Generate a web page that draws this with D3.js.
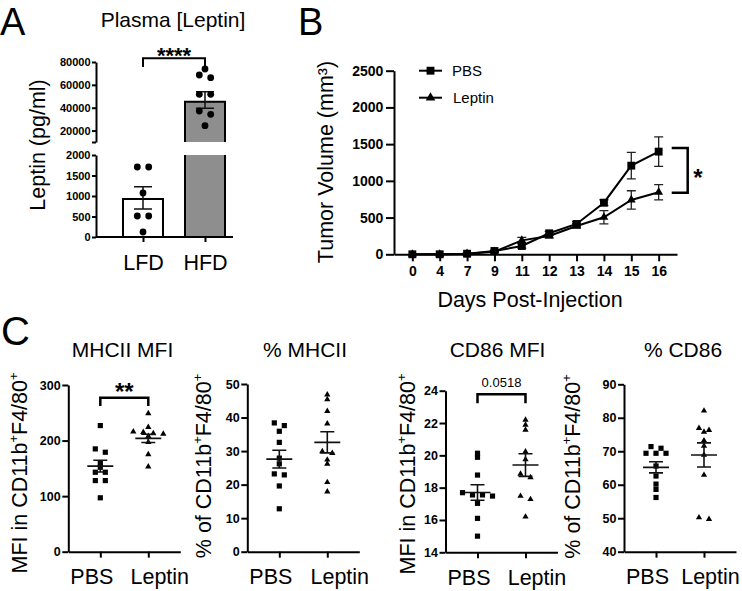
<!DOCTYPE html>
<html><head><meta charset="utf-8">
<script src="https://cdn.jsdelivr.net/npm/d3@7"></script>
<style>
body{margin:0;background:#fff}
svg{display:block;font-family:"Liberation Sans",Arial,Helvetica,sans-serif}
</style></head><body>
<svg id="c" width="742" height="591"></svg>
<script>
// ---------- DATA ----------
// Panel A
const aGroups = ["LFD", "HFD"];
const aLFD = [1707, 1707, 1073, 512, 512, 122];
const aHFD = [73875, 68625, 66263, 51738, 51738, 37125, 34238, 24263];
const aMean = [927, 45263];
const aSemLo = [683, 39488];
const aSemHi = [1227, 54013];
const aLowTicks = [0, 500, 1000, 1500, 2000];
const aHighTicks = [10000, 20000, 40000, 60000, 80000];

// Panel B
const bDays = ["0", "4", "7", "9", "11", "12", "13", "14", "15", "16"];
const bPbsMean = [0, 0, 8, 45, 113, 286, 413, 703, 1207, 1398];
const bPbsSem = [0, 0, 3, 10, 30, 25, 30, 40, 180, 200];
const bLepMean = [0, 0, 8, 35, 190, 250, 386, 504, 740, 845];
const bLepSem = [0, 0, 3, 10, 40, 25, 30, 90, 125, 105];
const bTicks = [0, 500, 1000, 1500, 2000, 2500];

// Panel C
const cGroups = ["PBS", "Leptin"];
const c1Pbs = [227, 185, 179, 160, 152, 143, 143, 128, 128, 97];
const c1Lep = [249, 224, 216, 215, 213, 212, 208, 197, 175, 153];
const c1Mean = [154, 204], c1Sem = [10.5, 7.5];
const c2Pbs = [38.4, 37.6, 35.9, 32.6, 27.9, 26.2, 23.2, 22.9, 19.6, 12.8];
const c2Lep = [46.8, 45.4, 41.9, 38.2, 29.9, 29.4, 27.4, 26.2, 20.7, 17.9];
const c2Mean = [27.6, 32.6], c2Sem = [2.65, 3.15];
const c3Pbs = [20.13, 19.88, 18.78, 17.69, 17.55, 17.55, 17.48, 17.03, 16.1, 15.0];
const c3Lep = [22.19, 21.88, 21.57, 20.23, 19.75, 18.85, 18.64, 17.48, 17.28, 16.2];
const c3Mean = [17.7, 19.4], c3Sem = [0.48, 0.7];
const c4Pbs = [71.4, 70.9, 69.4, 69.4, 69.4, 65.6, 62.6, 60.2, 58.6, 56.2];
const c4Lep = [82.1, 76.9, 76.3, 75.8, 73.2, 71.6, 68.9, 62.9, 50.2, 49.7];
const c4Mean = [65.2, 68.9], c4Sem = [1.65, 3.6];

// ---------- HELPERS ----------
const FONT = '"Liberation Sans", Arial, Helvetica, sans-serif';
const svg = d3.select("#c");
const fmt = d3.format("d");

function styleAxis(g, size, bold) {
  g.attr("font-family", FONT).attr("font-size", size).attr("font-weight", bold ? "bold" : "normal");
  g.select(".domain").attr("stroke", "#000").attr("stroke-width", 2);
  g.selectAll(".tick line").attr("stroke", "#000").attr("stroke-width", 2);
  g.selectAll(".tick text").attr("fill", "#000");
}
function text(x, y, s, size, opt = {}) {
  return svg.append("text").attr("x", x).attr("y", y).text(s)
    .attr("font-size", size).attr("font-weight", opt.bold ? "bold" : "normal")
    .attr("text-anchor", opt.anchor || "start").attr("fill", "#000");
}
function rotTitle(x, y, parts, size) {
  const t = svg.append("text").attr("transform", `translate(${x},${y}) rotate(-90)`)
    .attr("text-anchor", "middle").attr("font-size", size).attr("fill", "#000");
  let up = false;
  parts.forEach(p => {
    const sup = p.startsWith("^");
    const s = sup ? p.slice(1) : p;
    const ts = t.append("tspan").text(s);
    if (sup) { ts.attr("font-size", size * 0.6).attr("dy", -size * 0.42); up = true; }
    else if (up) { ts.attr("dy", size * 0.42); up = false; }
  });
  return t;
}
function swarm(vals, yf, d, thr) {
  const pts = vals.map(v => ({ v, y: yf(v) })).sort((a, b) => a.y - b.y);
  const rows = [];
  pts.forEach(p => {
    const r = rows[rows.length - 1];
    if (r && Math.abs(p.y - r[0].y) <= thr) r.push(p); else rows.push([p]);
  });
  rows.forEach(r => r.forEach((p, i) => p.dx = (i - (r.length - 1) / 2) * d));
  return pts;
}

// ---------- PANEL LETTERS ----------
text(0, 35, "A", 38);
text(298, 35, "B", 38);
text(1, 345, "C", 40);

// ---------- PANEL A ----------
{
  const axX = 96;
  const xA = d3.scalePoint().domain(aGroups).range([112, 236]).padding(0.5);
  const yLo = d3.scaleLinear().domain([0, 2000]).range([237, 155]);
  const yHi = d3.scaleLinear().domain([10000, 80000]).range([142, 62]);
  const yA = v => v > 2000 ? yHi(v) : yLo(v);
  const bw = 40;

  const g = svg.append("g");
  g.append("rect").attr("x", xA("LFD") - bw / 2).attr("y", yLo(aMean[0]))
    .attr("width", bw).attr("height", yLo(0) - yLo(aMean[0]))
    .attr("fill", "#fff").attr("stroke", "#000").attr("stroke-width", 2);
  const hx0 = xA("HFD") - bw / 2, hx1 = xA("HFD") + bw / 2;
  g.append("rect").attr("x", hx0).attr("y", yLo(2000)).attr("width", bw)
    .attr("height", yLo(0) - yLo(2000)).attr("fill", "#8e8e8e");
  g.append("path").attr("d", `M${hx0},${yLo(0)}V${yLo(2000)}M${hx1},${yLo(0)}V${yLo(2000)}`)
    .attr("stroke", "#000").attr("stroke-width", 2).attr("fill", "none");
  g.append("rect").attr("x", hx0).attr("y", yHi(aMean[1])).attr("width", bw)
    .attr("height", yHi(10000) - yHi(aMean[1])).attr("fill", "#8e8e8e");
  g.append("path").attr("d", `M${hx0},${yHi(10000)}V${yHi(aMean[1])}H${hx1}V${yHi(10000)}`)
    .attr("stroke", "#000").attr("stroke-width", 2).attr("fill", "none");

  const ya1 = svg.append("g").attr("transform", `translate(${axX},0)`)
    .call(d3.axisLeft(yLo).tickValues(aLowTicks).tickFormat(fmt).tickSize(4).tickPadding(1.5).tickSizeOuter(0));
  styleAxis(ya1, 11, true);
  const ya2 = svg.append("g").attr("transform", `translate(${axX},0)`)
    .call(d3.axisLeft(yHi).tickValues(aHighTicks).tickFormat(d => d === 10000 ? "" : fmt(d)).tickSize(4).tickPadding(1.5).tickSizeOuter(0));
  styleAxis(ya2, 11, true);
  const xa = svg.append("g").attr("transform", `translate(0,${yLo(0)})`)
    .call(d3.axisBottom(xA).tickSize(5).tickPadding(13));
  styleAxis(xa, 21.5, false);
  xa.select(".domain").remove();
  svg.append("line").attr("x1", axX).attr("x2", 233).attr("y1", yLo(0)).attr("y2", yLo(0))
    .attr("stroke", "#000").attr("stroke-width", 2);

  aGroups.forEach((grp, i) => {
    const cx = xA(grp), lo = yA(aSemLo[i]), hi = yA(aSemHi[i]);
    svg.append("path").attr("d", `M${cx},${lo}V${hi}M${cx - 9},${lo}H${cx + 9}M${cx - 9},${hi}H${cx + 9}`)
      .attr("stroke", "#111").attr("stroke-width", 1.5).attr("fill", "none");
  });
  [aLFD, aHFD].forEach((vals, i) => {
    swarm(vals, yA, 11.4, 4).forEach(p => {
      svg.append("circle").attr("cx", xA(aGroups[i]) + p.dx).attr("cy", p.y).attr("r", 3.4).attr("fill", "#000");
    });
  });

  svg.append("path").attr("d", `M${xA("LFD")},67V58.3H${xA("HFD")}V67`)
    .attr("stroke", "#000").attr("stroke-width", 2).attr("fill", "none");
  text((xA("LFD") + xA("HFD")) / 2, 63, "****", 22, { bold: true, anchor: "middle" });

  text(173, 26.5, "Plasma [Leptin]", 21, { anchor: "middle" });
  rotTitle(45, 145, ["Leptin (pg/ml)"], 21.5);
}

// ---------- PANEL B ----------
{
  const xB = d3.scalePoint().domain(bDays).range([394, 677]).padding(0.67);
  const yB = d3.scaleLinear().domain([0, 2500]).range([254.3, 70.7]);

  const ya = svg.append("g").attr("transform", "translate(394,0)")
    .call(d3.axisLeft(yB).tickValues(bTicks).tickFormat(fmt).tickSize(8).tickPadding(2.7).tickSizeOuter(0));
  styleAxis(ya, 14, true);
  const xa = svg.append("g").attr("transform", `translate(0,${yB(0)})`)
    .call(d3.axisBottom(xB).tickSize(7).tickPadding(5).tickSizeOuter(0));
  styleAxis(xa, 14, true);

  const series = [
    { mean: bPbsMean, sem: bPbsSem, sym: d3.symbolSquare, size: 62 },
    { mean: bLepMean, sem: bLepSem, sym: d3.symbolTriangle, size: 34 }
  ];
  const line = d3.line().x((d, i) => xB(bDays[i])).y(d => yB(d));
  series.forEach(s => {
    bDays.forEach((d, i) => {
      if (s.sem[i] <= 0) return;
      const cx = xB(d), lo = yB(s.mean[i] - s.sem[i]), hi = yB(s.mean[i] + s.sem[i]);
      svg.append("path").attr("d", `M${cx},${lo}V${hi}M${cx - 4.5},${lo}H${cx + 4.5}M${cx - 4.5},${hi}H${cx + 4.5}`)
        .attr("stroke", "#222").attr("stroke-width", 1.3).attr("fill", "none");
    });
  });
  series.forEach(s => {
    svg.append("path").attr("d", line(s.mean)).attr("fill", "none").attr("stroke", "#000").attr("stroke-width", 2);
  });
  series.forEach(s => {
    bDays.forEach((d, i) => {
      svg.append("path").attr("d", d3.symbol(s.sym, s.size)())
        .attr("transform", `translate(${xB(d)},${yB(s.mean[i])})`).attr("fill", "#000");
    });
  });

  const leg = [["PBS", d3.symbolSquare, 62, 70.7, 452], ["Leptin", d3.symbolTriangle, 40, 97.7, 453]];
  leg.forEach(([lab, sym, sz, yy, tx]) => {
    svg.append("line").attr("x1", 419).attr("x2", 442).attr("y1", yy).attr("y2", yy)
      .attr("stroke", "#000").attr("stroke-width", 2);
    svg.append("path").attr("d", d3.symbol(sym, sz)()).attr("transform", `translate(430.5,${yy})`).attr("fill", "#000");
    text(tx, yy + 5.3, lab, 15);
  });

  svg.append("path").attr("d", "M671.7,148H687.7V192.7H671.7")
    .attr("stroke", "#000").attr("stroke-width", 2.5).attr("fill", "none");
  text(698, 186, "*", 24, { bold: true, anchor: "middle" });

  text(530, 306.7, "Days Post-Injection", 21.5, { anchor: "middle" });
  rotTitle(333, 162, ["Tumor Volume (mm³)"], 21.5);
}

// ---------- PANEL C ----------
const cPanels = [
  { title: "MHCII MFI", tx: 122.5, ax: 68.3, domain: [0, 300], ticks: [0, 100, 200, 300], y0: 551.7, y1: 385,
    pbs: c1Pbs, lep: c1Lep, mean: c1Mean, sem: c1Sem, ylab: ["MFI in CD11b", "^+", "F4/80", "^+"], lx: 27, ly: 473,
    sig: "**", sigY: 397.7, sigDrop: 406, sigBold: true, lepDx: 11 },
  { title: "% MHCII", tx: 305, ax: 247.3, domain: [0, 50], ticks: [0, 10, 20, 30, 40, 50], y0: 551.7, y1: 384,
    pbs: c2Pbs, lep: c2Lep, mean: c2Mean, sem: c2Sem, ylab: ["% of CD11b", "^+", "F4/80", "^+"], lx: 211, ly: 466, lepDx: 12 },
  { title: "CD86 MFI", tx: 497.5, ax: 445.5, domain: [14, 24], ticks: [14, 16, 18, 20, 22, 24], y0: 552.3, y1: 390.7,
    pbs: c3Pbs, lep: c3Lep, mean: c3Mean, sem: c3Sem, ylab: ["MFI in CD11b", "^+", "F4/80", "^+"], lx: 415, ly: 474,
    sig: "0.0518", sigY: 394.3, sigDrop: 403.3, sigBold: false, lepDx: 11 },
  { title: "% CD86", tx: 683, ax: 624, domain: [40, 90], ticks: [40, 50, 60, 70, 80, 90], y0: 551.7, y1: 384.3,
    pbs: c4Pbs, lep: c4Lep, mean: c4Mean, sem: c4Sem, ylab: ["% of CD11b", "^+", "F4/80", "^+"], lx: 580, ly: 466.5, lepDx: 6 }
];

cPanels.forEach(cfg => {
  const y = d3.scaleLinear().domain(cfg.domain).range([cfg.y0, cfg.y1]);
  const x = d3.scalePoint().domain(cGroups).range([cfg.ax, cfg.ax + 112]).padding(0.667);

  const ya = svg.append("g").attr("transform", `translate(${cfg.ax},0)`)
    .call(d3.axisLeft(y).tickValues(cfg.ticks).tickFormat(fmt).tickSize(6).tickPadding(1.6).tickSizeOuter(0));
  styleAxis(ya, 12.5, true);
  const xa = svg.append("g").attr("transform", `translate(0,${cfg.y0})`)
    .call(d3.axisBottom(x).tickSize(6).tickPadding(11).tickSizeOuter(0));
  styleAxis(xa, 21.5, false);
  xa.selectAll(".tick text").attr("dx", d => d === "PBS" ? -9 : cfg.lepDx);

  [cfg.pbs, cfg.lep].forEach((vals, gi) => {
    const sym = gi === 0 ? d3.symbol(d3.symbolSquare, 27)() : d3.symbol(d3.symbolTriangle, 17)();
    swarm(vals, y, 10, 3.5).forEach(p => {
      svg.append("path").attr("d", sym).attr("transform", `translate(${x(cGroups[gi]) + p.dx},${p.y})`).attr("fill", "#000");
    });
  });
  cGroups.forEach((grp, i) => {
    const cx = x(grp), m = y(cfg.mean[i]), lo = y(cfg.mean[i] - cfg.sem[i]), hi = y(cfg.mean[i] + cfg.sem[i]);
    svg.append("path").attr("d", `M${cx - 13},${m}H${cx + 13}M${cx},${lo}V${hi}M${cx - 7},${lo}H${cx + 7}M${cx - 7},${hi}H${cx + 7}`)
      .attr("stroke", "#111").attr("stroke-width", 1.6).attr("fill", "none");
  });

  if (cfg.sig) {
    svg.append("path").attr("d", `M${x("PBS")},${cfg.sigDrop}V${cfg.sigY}H${x("Leptin")}V${cfg.sigDrop}`)
      .attr("stroke", "#000").attr("stroke-width", 2.5).attr("fill", "none");
    const mx = (x("PBS") + x("Leptin")) / 2;
    if (cfg.sigBold) text(mx, 400, cfg.sig, 24, { bold: true, anchor: "middle" });
    else text(mx, 386.7, cfg.sig, 13, { anchor: "middle" });
  }

  text(cfg.tx, 357, cfg.title, 21, { anchor: "middle" });
  rotTitle(cfg.lx, cfg.ly, cfg.ylab, 21.5);
});
</script>
</body></html>
